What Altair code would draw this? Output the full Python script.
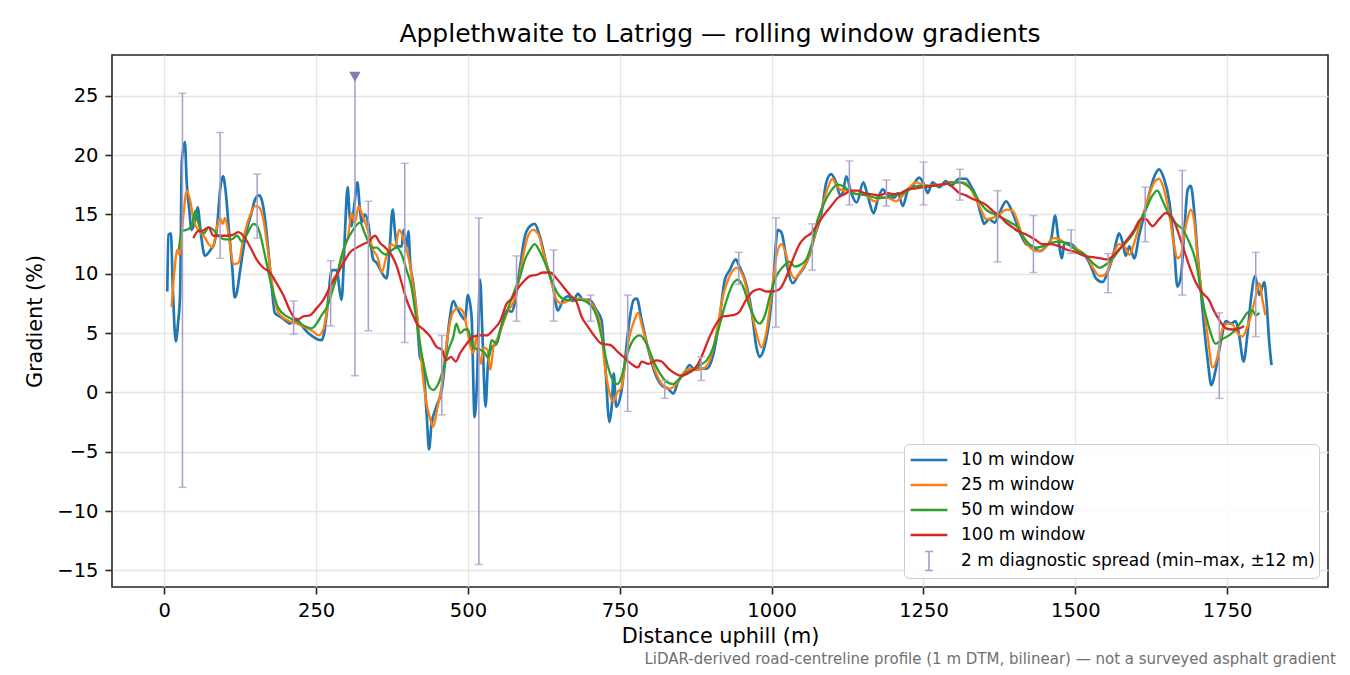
import pandas as pd
import altair as alt

TITLE = "Applethwaite to Latrigg — rolling window gradients"
FOOTNOTE = "LiDAR-derived road-centreline profile (1 m DTM, bilinear) — not a surveyed asphalt gradient"

SERIES = ["10 m window", "25 m window", "50 m window", "100 m window"]
SPREAD = "2 m diagnostic spread (min–max, ±12 m)"
COLORS = ["#1f77b4", "#ff7f0e", "#2ca02c", "#d62728", "#a79cca"]

x_ticks = [0, 250, 500, 750, 1000, 1250, 1500, 1750]
y_ticks = [-15, -10, -5, 0, 5, 10, 15, 20, 25]

#------------------------------------------------------------------------- 10 m window
d10 = [5, 7, 11, 14, 19, 23, 26, 29, 34, 37, 41, 45, 50, 55, 60, 67, 76, 82, 87, 93,
       97, 101, 106, 112, 116, 119, 125, 130, 136, 143, 150, 156, 160, 165, 169, 177, 182, 190, 196, 207,
       218, 224, 235, 245, 251, 259, 264, 268, 276, 284, 289, 292, 296, 298, 302, 305, 308, 313, 318, 322,
       325, 330, 336, 340, 344, 350, 358, 366, 371, 376, 380, 383, 391, 394, 398, 402, 405, 410, 416, 421,
       426, 432, 436, 440, 448, 457, 462, 469, 476, 481, 490, 495, 500, 506, 511, 515, 520, 524, 529, 533,
       539, 547, 555, 564, 572, 577, 585, 594, 602, 610, 618, 629, 640, 648, 657, 665, 673, 681, 690, 700,
       712, 720, 723, 727, 731, 733, 737, 740, 744, 753, 758, 766, 773, 778, 786, 796, 808, 819, 830, 838,
       846, 857, 865, 873, 882, 893, 903, 914, 923, 931, 941, 947, 956, 967, 975, 980, 988, 997, 1003, 1010,
       1016, 1021, 1027, 1035, 1043, 1054, 1062, 1071, 1082, 1090, 1098, 1106, 1113, 1117, 1123, 1131, 1140, 1151, 1158, 1168,
       1175, 1183, 1191, 1202, 1208, 1216, 1224, 1232, 1243, 1252, 1257, 1265, 1276, 1287, 1295, 1309, 1320, 1328, 1336, 1345,
       1350, 1358, 1367, 1375, 1386, 1397, 1405, 1411, 1419, 1430, 1441, 1452, 1460, 1467, 1471, 1478, 1482, 1493, 1504, 1515,
       1526, 1534, 1545, 1553, 1562, 1567, 1572, 1578, 1583, 1589, 1597, 1605, 1614, 1622, 1630, 1638, 1646, 1655, 1663, 1668,
       1674, 1679, 1685, 1690, 1696, 1701, 1707, 1712, 1718, 1724, 1731, 1740, 1748, 1756, 1764, 1770, 1777, 1783, 1789, 1796,
       1803, 1811, 1815, 1819, 1823]
g10 = [8.5, 13.3, 13.4, 9.0, 4.3, 6.0, 8.1, 19.5, 21.1, 17.7, 15.5, 13.7, 14.3, 15.6, 13.5, 11.5, 12.0, 12.5, 14.0, 17.5,
       18.2, 17.0, 14.0, 10.5, 8.0, 8.3, 10.3, 12.0, 13.7, 15.0, 16.3, 16.6, 16.3, 15.0, 13.2, 8.9, 6.7, 6.4, 6.2, 5.8,
       6.2, 5.8, 5.1, 4.7, 4.5, 4.4, 5.2, 6.9, 10.3, 10.3, 8.5, 7.8, 11.5, 14.0, 17.3, 15.0, 14.0, 15.8, 17.7, 15.5,
       14.3, 15.0, 14.2, 12.5, 11.2, 10.9, 10.1, 9.6, 12.0, 15.4, 13.5, 12.3, 12.3, 13.7, 12.0, 13.6, 10.9, 9.2, 6.4, 3.0,
       2.4, -1.8, -4.8, -2.7, -1.2, 0.2, 2.4, 5.8, 7.7, 7.2, 6.4, 6.1, 8.2, 6.4, -2.1, 1.0, 9.5, 4.7, -1.2, 2.4,
       3.8, 4.1, 5.5, 6.9, 6.8, 7.5, 10.3, 13.2, 14.0, 14.2, 13.2, 10.9, 8.9, 6.9, 7.8, 8.1, 7.7, 8.3, 7.8, 7.8,
       6.9, 6.1, 4.4, 1.6, -1.8, -2.5, -1.0, 1.6, -1.2, 0.2, 2.4, 6.1, 7.8, 7.9, 6.1, 3.8, 1.6, 0.6, 0.3, -0.1,
       0.9, 1.7, 2.3, 1.9, 2.0, 2.0, 3.0, 6.1, 9.5, 10.3, 11.2, 10.6, 9.5, 6.9, 3.8, 3.0, 3.8, 6.4, 9.5, 13.7,
       13.5, 12.3, 10.3, 9.2, 9.8, 10.6, 11.5, 13.2, 15.1, 17.7, 18.4, 17.7, 16.6, 16.8, 18.2, 16.8, 16.0, 17.7, 16.6, 15.1,
       16.3, 17.1, 16.6, 16.4, 16.8, 15.7, 17.0, 17.4, 18.1, 17.4, 16.8, 17.7, 17.3, 17.8, 17.4, 18.0, 18.0, 17.4, 16.6, 14.9,
       14.2, 14.6, 14.3, 15.1, 16.1, 15.1, 14.0, 13.2, 12.5, 12.3, 11.9, 12.3, 12.9, 14.9, 13.4, 11.3, 12.6, 12.5, 12.0, 11.6,
       10.6, 9.6, 9.3, 10.1, 11.5, 12.6, 13.4, 12.6, 11.5, 12.3, 11.3, 13.2, 15.1, 16.8, 18.2, 18.8, 18.0, 16.0, 12.0, 8.9,
       9.8, 13.2, 17.1, 17.4, 15.1, 11.8, 8.4, 5.5, 2.7, 0.6, 1.9, 4.4, 6.0, 5.8, 6.0, 4.7, 2.6, 4.7, 7.8, 9.8,
       8.2, 9.3, 7.5, 4.4, 2.3]

#------------------------------------------------------------------------- 25 m window
d25 = [12, 17, 21, 25, 31, 37, 43, 48, 56, 65, 73, 80, 87, 92, 96, 100, 107, 114, 122, 130,
       141, 150, 156, 163, 171, 180, 188, 202, 218, 235, 246, 254, 262, 270, 278, 287, 295, 303, 308, 314,
       320, 326, 333, 344, 352, 358, 366, 374, 380, 387, 394, 399, 405, 410, 416, 421, 426, 432, 437, 443,
       449, 457, 462, 469, 476, 484, 492, 498, 503, 509, 514, 521, 526, 532, 537, 542, 550, 558, 566, 574,
       583, 591, 599, 607, 616, 624, 635, 646, 654, 665, 679, 692, 703, 712, 720, 725, 732, 739, 746, 753,
       758, 766, 775, 780, 788, 799, 810, 821, 832, 843, 854, 865, 876, 887, 898, 909, 920, 931, 942, 953,
       964, 975, 983, 991, 1000, 1008, 1016, 1024, 1030, 1038, 1049, 1060, 1071, 1082, 1093, 1100, 1106, 1117, 1128, 1139,
       1150, 1161, 1169, 1180, 1191, 1205, 1216, 1227, 1238, 1249, 1260, 1271, 1282, 1293, 1304, 1315, 1326, 1336, 1345, 1353,
       1364, 1375, 1386, 1397, 1405, 1413, 1424, 1435, 1446, 1457, 1463, 1474, 1485, 1496, 1507, 1518, 1528, 1540, 1548, 1556,
       1564, 1572, 1581, 1589, 1597, 1605, 1614, 1622, 1630, 1638, 1646, 1655, 1663, 1668, 1674, 1679, 1685, 1690, 1696, 1701,
       1709, 1718, 1726, 1734, 1742, 1751, 1759, 1767, 1775, 1783, 1789, 1797, 1803, 1808, 1813]
g25 = [7.2, 10.3, 12.0, 11.6, 14.6, 17.0, 16.1, 14.6, 13.7, 13.2, 12.5, 12.2, 14.0, 14.7, 14.2, 14.7, 12.9, 10.8, 10.9, 12.9,
       14.9, 15.7, 15.6, 14.6, 11.8, 8.4, 6.7, 6.1, 5.8, 5.4, 5.1, 4.8, 5.3, 7.5, 9.5, 10.1, 12.0, 13.2, 15.1, 14.3,
       15.7, 15.0, 14.0, 12.0, 11.3, 10.1, 11.5, 12.5, 12.3, 13.7, 12.9, 12.0, 10.6, 8.9, 6.7, 4.1, 1.3, -1.0, -2.1, -2.9,
       -1.5, 0.7, 3.0, 5.5, 6.8, 7.1, 6.8, 5.5, 4.1, 3.3, 4.7, 2.4, 3.8, 3.6, 1.9, 3.8, 4.7, 5.8, 6.9, 7.5,
       9.2, 11.5, 13.2, 13.7, 13.3, 11.8, 9.8, 7.8, 7.5, 7.7, 7.9, 7.8, 7.5, 6.7, 5.0, 2.4, 0.2, -0.8, 0.0, 0.4,
       2.1, 4.7, 6.2, 6.7, 5.3, 3.3, 1.6, 0.6, 0.3, 0.7, 1.6, 2.0, 1.9, 2.0, 2.7, 5.0, 8.1, 9.8, 10.5, 9.8,
       7.5, 5.0, 3.8, 5.0, 8.4, 11.5, 12.5, 11.6, 10.3, 9.6, 10.3, 11.3, 13.2, 15.4, 17.3, 18.0, 17.5, 17.0, 17.1, 16.7,
       16.7, 16.4, 16.1, 16.4, 16.4, 16.1, 16.6, 17.3, 17.7, 17.5, 17.4, 17.5, 17.5, 17.7, 17.7, 17.7, 17.3, 16.3, 15.4, 14.6,
       14.7, 15.0, 15.4, 15.3, 14.4, 13.2, 12.3, 11.9, 12.0, 12.6, 13.0, 12.9, 12.5, 12.3, 11.9, 11.5, 10.6, 9.8, 9.9, 10.6,
       11.8, 12.5, 12.3, 11.6, 12.6, 14.0, 15.4, 16.7, 17.7, 18.0, 17.1, 14.9, 12.3, 11.3, 11.6, 13.2, 14.7, 15.4, 14.3, 11.5,
       8.1, 4.7, 2.1, 3.0, 5.3, 5.8, 5.7, 5.0, 4.7, 5.5, 6.4, 8.1, 9.2, 7.8, 6.5]

#------------------------------------------------------------------------- 50 m window
d50 = [24, 29, 37, 45, 51, 56, 65, 73, 81, 89, 100, 111, 120, 128, 136, 147, 153, 158, 166, 177,
       188, 202, 218, 235, 243, 251, 259, 268, 276, 284, 292, 300, 311, 322, 331, 342, 350, 358, 366, 375,
       383, 391, 399, 407, 413, 421, 429, 437, 443, 451, 459, 468, 476, 481, 487, 495, 500, 506, 512, 520,
       528, 533, 539, 547, 553, 561, 569, 577, 586, 594, 602, 610, 618, 627, 635, 643, 651, 662, 673, 684,
       701, 712, 720, 728, 736, 746, 753, 761, 772, 783, 794, 805, 816, 827, 838, 849, 860, 871, 882, 893,
       904, 915, 926, 937, 945, 953, 964, 975, 980, 989, 997, 1008, 1019, 1030, 1038, 1049, 1057, 1065, 1076, 1087,
       1098, 1109, 1120, 1131, 1145, 1158, 1172, 1186, 1200, 1213, 1227, 1241, 1255, 1268, 1282, 1296, 1309, 1320, 1331, 1342,
       1353, 1367, 1380, 1394, 1405, 1413, 1424, 1435, 1446, 1460, 1474, 1487, 1501, 1515, 1529, 1540, 1551, 1562, 1572, 1583,
       1594, 1605, 1616, 1627, 1635, 1644, 1655, 1666, 1677, 1688, 1699, 1709, 1720, 1731, 1742, 1753, 1764, 1775, 1783, 1792,
       1797, 1803]
g50 = [12.0, 13.6, 13.7, 14.0, 15.3, 14.3, 13.4, 13.9, 13.7, 13.2, 12.9, 12.9, 13.2, 12.7, 13.3, 14.2, 14.0, 13.3, 11.5, 8.9,
       7.1, 6.4, 6.0, 5.5, 5.4, 5.8, 6.5, 7.2, 8.4, 9.8, 11.5, 12.7, 13.7, 14.3, 13.3, 12.2, 12.2, 11.8, 11.6, 12.0,
       12.2, 11.6, 10.3, 8.9, 6.9, 4.1, 1.9, 0.4, 0.2, 0.7, 1.9, 3.6, 4.7, 5.8, 5.0, 5.3, 5.3, 4.1, 3.7, 3.6,
       3.3, 2.9, 4.4, 4.1, 5.3, 6.4, 7.5, 8.6, 9.8, 11.2, 12.0, 12.5, 11.9, 10.9, 9.8, 8.8, 8.1, 7.8, 7.8, 7.8,
       7.4, 6.4, 4.7, 2.7, 1.3, 0.7, 1.3, 3.0, 4.4, 4.8, 4.1, 2.7, 1.6, 0.9, 0.7, 1.2, 1.7, 1.9, 2.3, 2.7,
       3.8, 5.8, 7.8, 9.2, 9.5, 8.9, 7.2, 6.0, 5.8, 6.5, 8.1, 9.8, 10.6, 11.0, 10.6, 10.8, 11.2, 12.3, 14.6, 16.0,
       17.0, 17.5, 17.3, 16.8, 16.7, 16.6, 16.4, 16.4, 16.6, 16.7, 17.1, 17.4, 17.4, 17.4, 17.5, 17.7, 17.7, 17.5, 17.0, 16.1,
       15.4, 15.0, 14.7, 14.3, 13.9, 13.2, 12.5, 12.2, 12.3, 12.6, 12.7, 12.5, 12.0, 11.6, 10.9, 10.5, 10.8, 11.3, 12.0, 12.6,
       13.3, 14.3, 15.4, 16.6, 17.0, 16.1, 14.9, 14.2, 13.7, 12.6, 10.9, 7.8, 5.5, 4.1, 4.5, 4.8, 5.3, 6.1, 6.7, 6.9,
       6.5, 6.7]

#------------------------------------------------------------------------- 100 m window
d100 = [48, 56, 62, 73, 81, 92, 103, 114, 122, 133, 144, 152, 163, 174, 185, 196, 207, 218, 229, 240,
        251, 262, 273, 284, 295, 306, 317, 328, 336, 347, 355, 364, 375, 383, 391, 399, 407, 416, 427, 438,
        449, 457, 464, 472, 480, 487, 498, 509, 520, 531, 542, 553, 564, 572, 580, 591, 602, 613, 624, 635,
        646, 657, 668, 679, 687, 698, 709, 720, 734, 747, 758, 769, 780, 786, 797, 810, 819, 830, 841, 852,
        862, 871, 879, 887, 898, 909, 920, 937, 947, 958, 969, 980, 991, 1002, 1013, 1024, 1035, 1046, 1054, 1065,
        1076, 1087, 1098, 1109, 1120, 1131, 1142, 1153, 1164, 1178, 1189, 1202, 1213, 1224, 1238, 1252, 1265, 1279, 1290, 1298,
        1309, 1320, 1331, 1342, 1353, 1364, 1375, 1386, 1397, 1405, 1419, 1433, 1446, 1460, 1474, 1487, 1501, 1515, 1529, 1542,
        1553, 1564, 1575, 1586, 1597, 1608, 1616, 1627, 1638, 1649, 1660, 1668, 1677, 1688, 1699, 1709, 1720, 1728, 1737, 1748,
        1759, 1770, 1778]
g100 = [13.0, 13.6, 13.6, 13.9, 13.2, 13.2, 13.2, 13.3, 13.5, 13.0, 12.0, 11.2, 10.5, 10.1, 9.2, 8.2, 6.9, 6.1, 6.4, 6.5,
        7.1, 7.8, 8.9, 9.9, 10.9, 11.8, 12.2, 12.5, 12.7, 13.2, 12.6, 12.2, 11.5, 10.6, 9.2, 7.8, 6.8, 5.8, 5.3, 4.7,
        3.8, 3.6, 2.7, 3.0, 2.6, 3.3, 4.1, 4.7, 4.8, 4.8, 5.3, 6.0, 7.5, 7.9, 8.6, 9.3, 9.8, 9.9, 10.1, 10.1,
        9.6, 8.9, 8.2, 7.6, 6.4, 5.5, 4.7, 4.1, 4.0, 3.4, 2.9, 2.4, 2.1, 2.6, 2.4, 2.7, 2.6, 2.0, 1.6, 1.4,
        1.6, 1.9, 2.4, 3.3, 4.7, 5.8, 6.4, 6.5, 6.8, 7.8, 8.5, 8.7, 8.5, 8.5, 8.7, 9.7, 11.2, 12.5, 13.0, 13.4,
        14.2, 15.0, 15.7, 16.4, 16.7, 17.0, 17.0, 16.8, 16.7, 16.6, 16.8, 16.7, 16.8, 17.1, 17.2, 17.3, 17.4, 17.5, 17.6, 17.3,
        16.8, 16.6, 16.3, 16.1, 15.8, 15.3, 14.9, 14.3, 13.9, 13.6, 13.3, 12.9, 12.5, 12.5, 12.3, 12.0, 11.8, 11.5, 11.4, 11.3,
        11.2, 11.6, 12.2, 12.9, 13.7, 14.6, 14.6, 14.0, 14.6, 15.1, 14.7, 13.7, 12.3, 10.6, 9.2, 8.4, 7.8, 6.9, 6.1, 5.4,
        5.3, 5.4, 5.6]

#------------------------------------------------------------------------- 2 m diagnostic spread (min / max every ~61 m)
spread_d = [30, 92, 153, 213, 274, 336, 396, 457, 518, 580, 641, 702, 763, 824, 884,
            946, 1007, 1067, 1128, 1189, 1250, 1310, 1372, 1431, 1493, 1554, 1615, 1676, 1737, 1797]
spread_lo = [-8.0, 11.3, 13.0, 4.9, 5.6, 5.2, 4.2, -1.9, -14.5, 6.0, 6.0, 6.0, -1.6, -0.5, 1.0,
             9.1, 5.5, 10.3, 15.8, 15.7, 15.8, 16.2, 11.0, 10.1, 11.7, 8.4, 12.7, 8.2, -0.5, 4.7]
spread_hi = [25.2, 21.9, 18.4, 7.7, 11.1, 16.1, 19.3, 4.8, 14.7, 11.5, 12.0, 8.2, 8.2, 1.0, 3.0,
             11.8, 14.7, 14.2, 19.5, 17.9, 19.4, 18.8, 17.0, 14.9, 13.7, 11.7, 17.3, 18.7, 6.7, 11.8]
# the one spread that runs off the top (drawn with a marker)
flag_d = [314]
flag_lo = [1.4]
flag_hi = [26.6]

#------------------------------------------------------------------------- tables
frames = []
for name, d, g in [(SERIES[0], d10, g10), (SERIES[1], d25, g25),
                   (SERIES[2], d50, g50), (SERIES[3], d100, g100)]:
    assert len(d) == len(g), name
    frames.append(pd.DataFrame({'dist': d, 'grad': g, 'series': name}))
lines = pd.concat(frames, ignore_index=True)

spread = pd.DataFrame({'dist': spread_d + flag_d, 'lo': spread_lo + flag_lo,
                       'hi': spread_hi + flag_hi, 'series': SPREAD})
caps = pd.DataFrame({'dist': spread_d + spread_d + flag_d,
                     'grad': spread_lo + spread_hi + flag_lo})
flag = pd.DataFrame({'dist': flag_d, 'hi': flag_hi})
note = pd.DataFrame({'note': [FOOTNOTE]})
# empty table: only carries the legend symbols
legend_only = pd.DataFrame({'dist': pd.Series([], dtype=float), 'grad': pd.Series([], dtype=float),
                            'series': pd.Series([], dtype=str)})

x_scale = alt.Scale(domain=[-86, 1916], nice=False, zero=False)
y_scale = alt.Scale(domain=[-16.4, 28.43], nice=False, zero=False)
color_scale = alt.Scale(domain=SERIES + [SPREAD], range=COLORS)

LINE_SYMBOL = 'M-1.6,-0.05L1.6,-0.05L1.6,0.05L-1.6,0.05Z'
BAR_SYMBOL = 'M0,-0.87L0,0.87M-0.36,-0.87L0.36,-0.87M-0.36,0.87L0.36,0.87'
shape_scale = alt.Scale(domain=SERIES + [SPREAD], range=[LINE_SYMBOL] * 4 + [BAR_SYMBOL])

x_axis = alt.Axis(values=x_ticks, format='d', title='Distance uphill (m)')
y_axis = alt.Axis(values=y_ticks, format='d', title='Gradient (%)',
                  labelExpr="replace(datum.label, '-', '\u2212')")

legend = alt.Legend(
    title=None, orient='bottom-right', offset=9, padding=4, rowPadding=5,
    strokeColor='#cccccc', fillColor='rgba(255,255,255,0.85)', cornerRadius=5,
    symbolSize=484, symbolStrokeWidth=1.6, symbolOffset=9,
    labelOffset=20, labelFontSize=17, labelFont='DejaVu Sans', labelColor='#000', labelLimit=600
)

keys = alt.Chart(legend_only).mark_point(filled=True, strokeWidth=1.6, opacity=1).encode(
    x=alt.X('dist:Q', scale=x_scale, axis=x_axis),
    y=alt.Y('grad:Q', scale=y_scale, axis=y_axis),
    color=alt.Color('series:N', scale=color_scale, legend=legend),
    shape=alt.Shape('series:N', scale=shape_scale, legend=legend)
)


def line_layer(name, width):
    return alt.Chart(lines).transform_filter(alt.datum.series == name).mark_line(
        strokeWidth=width, interpolate='monotone', strokeJoin='round'
    ).encode(
        x=alt.X('dist:Q', scale=x_scale),
        y=alt.Y('grad:Q', scale=y_scale),
        color=alt.Color('series:N', scale=color_scale)
    )


blue = line_layer(SERIES[0], 2.7)
orange = line_layer(SERIES[1], 2.3)
green = line_layer(SERIES[2], 2.3)
red = line_layer(SERIES[3], 2.3)

bars = alt.Chart(spread).mark_rule(strokeWidth=1.5).encode(
    x=alt.X('dist:Q', scale=x_scale),
    y=alt.Y('lo:Q', scale=y_scale),
    y2='hi:Q',
    color=alt.Color('series:N', scale=color_scale)
)
bar_caps = alt.Chart(caps).mark_tick(orient='horizontal', size=8, thickness=1.5, color='#a79cca').encode(
    x=alt.X('dist:Q', scale=x_scale),
    y=alt.Y('grad:Q', scale=y_scale)
)
flag_mark = alt.Chart(flag).mark_point(shape='triangle-down', filled=True, size=130, color='#8778b5', opacity=1).encode(
    x=alt.X('dist:Q', scale=x_scale),
    y=alt.Y('hi:Q', scale=y_scale)
)
footer = alt.Chart(note).mark_text(align='right', baseline='alphabetic', fontSize=15,
                                   font='DejaVu Sans', color='#707070').encode(
    text='note:N', x=alt.value(1224), y=alt.value(609)
)

chart = alt.layer(keys, blue, orange, green, red, bars, bar_caps, flag_mark, footer).properties(
    title=alt.TitleParams(TITLE, frame='group', anchor='middle', offset=8),
    width=1216,
    height=532,
    autosize=alt.AutoSizeParams(type='none'),
    padding={'left': 104, 'top': 47, 'right': 14, 'bottom': 80}
).configure_view(
    stroke='#262626', strokeWidth=1.6
).configure_axis(
    domain=False, grid=True, gridColor='#e4e4e4', gridWidth=1.3,
    tickColor='#262626', tickSize=7, tickWidth=1.6,
    labelFont='DejaVu Sans', labelFontSize=19.5, labelColor='#000', labelPadding=7,
    titleFont='DejaVu Sans', titleFontSize=20.8, titleFontWeight='normal', titleColor='#000'
).configure_axisX(
    titlePadding=7
).configure_axisY(
    titlePadding=11
).configure_title(
    font='DejaVu Sans', fontSize=25, fontWeight='normal', color='#000'
)

chart.save('out.html', embed_options={'renderer': 'svg', 'actions': False})
